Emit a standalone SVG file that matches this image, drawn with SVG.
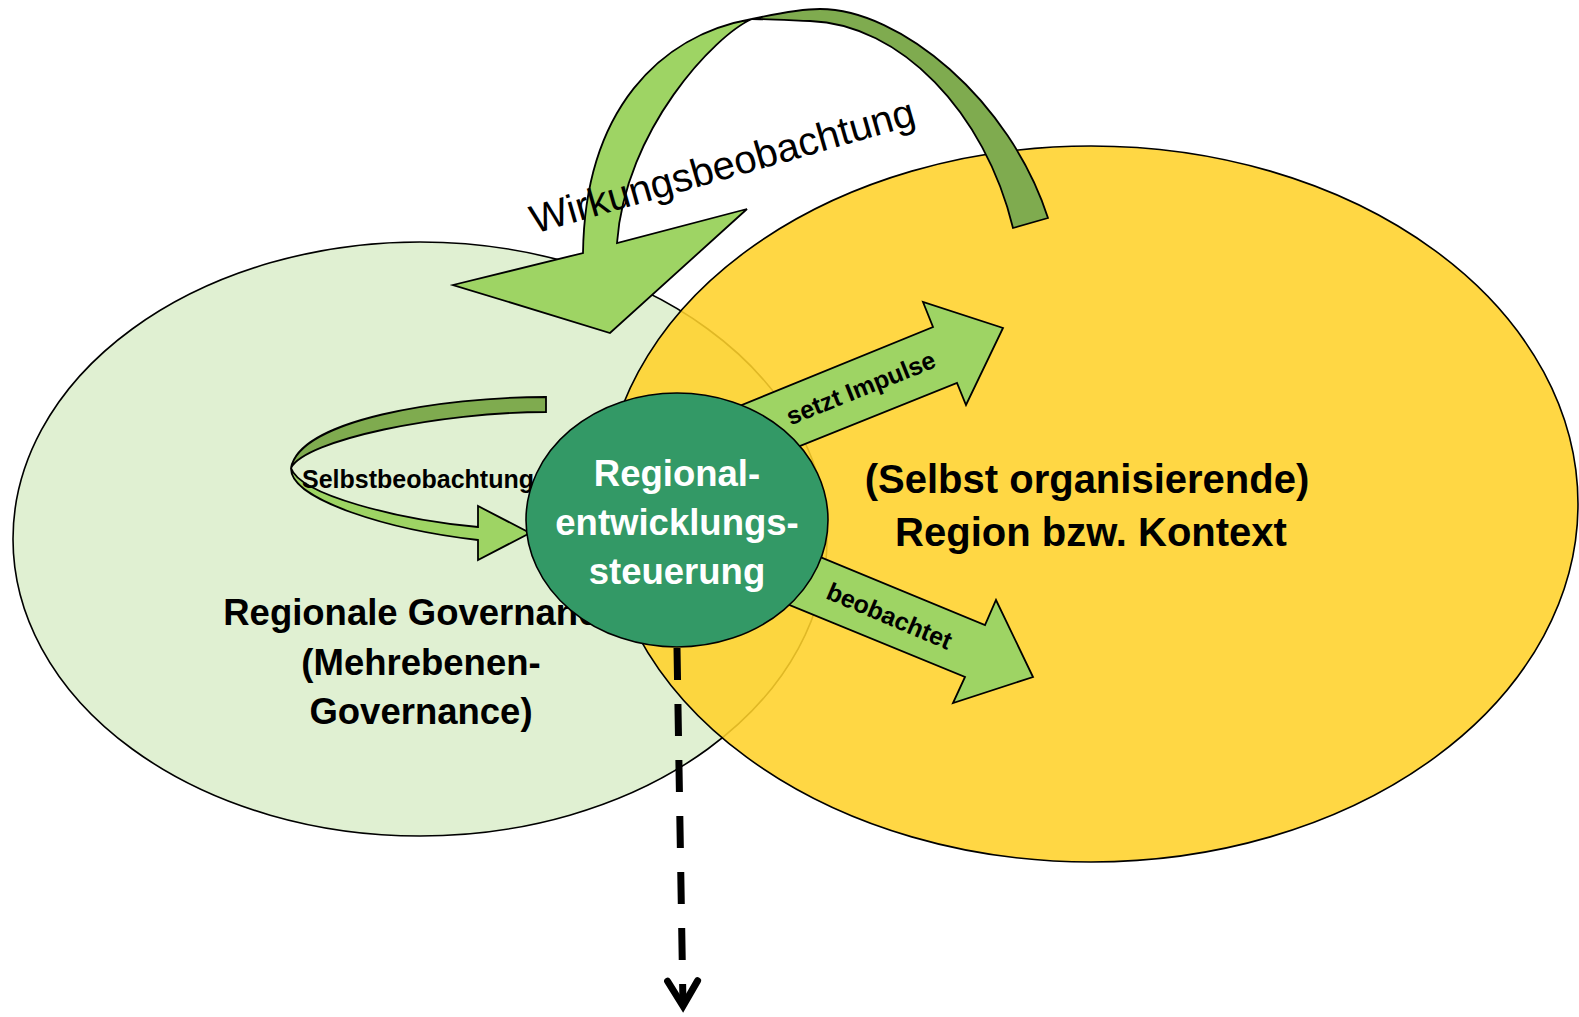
<svg xmlns="http://www.w3.org/2000/svg" width="1579" height="1017" viewBox="0 0 1579 1017">
  <defs>
    <style>
      .outline { stroke: #000; stroke-width: 1.6; }
      .arrow-light { fill: #9ED464; stroke: #000; stroke-width: 1.8; stroke-linejoin: miter; }
      .arrow-dark { fill: #7FAB4F; stroke: #000; stroke-width: 1.8; stroke-linejoin: miter; }
      .big { font-family: "Liberation Sans", Arial, sans-serif; font-weight: 700; font-size: 36.5px; text-anchor: middle; fill: #000; }
      .big-r { font-family: "Liberation Sans", Arial, sans-serif; font-weight: 700; font-size: 40px; text-anchor: middle; fill: #000; }
      .center-txt { font-family: "Liberation Sans", Arial, sans-serif; font-weight: 700; font-size: 36.5px; text-anchor: middle; fill: #FFFFFF; }
      .small { font-family: "Liberation Sans", Arial, sans-serif; font-weight: 700; font-size: 25px; fill: #000; }
      .loop-label { font-family: "Liberation Sans", Arial, sans-serif; font-weight: 400; font-size: 40px; text-anchor: middle; fill: #000; }
    </style>
    <marker id="chevron" markerUnits="userSpaceOnUse" markerWidth="60" markerHeight="60" viewBox="-40 -30 60 60" refX="0" refY="0" orient="auto" overflow="visible">
      <path d="M-25,-15 L0,0 L-25,15" fill="none" stroke="#000" stroke-width="7" stroke-linecap="round" stroke-linejoin="miter"/>
    </marker>
  </defs>

  <rect x="0" y="0" width="1579" height="1017" fill="#FFFFFF"/>

  <!-- left ellipse: regional governance -->
  <g id="governance">
    <ellipse cx="420" cy="539" rx="407" ry="297" fill="#E0F0D2" class="outline"/>
    <text class="big" x="421" y="625">Regionale Governance</text>
    <text class="big" x="421" y="675">(Mehrebenen-</text>
    <text class="big" x="421" y="724">Governance)</text>
  </g>

  <!-- right ellipse: self-organising region / context (translucent, lies over the left one) -->
  <g id="region">
    <ellipse cx="1091" cy="504" rx="487" ry="358" fill="#FFD22A" fill-opacity="0.88" class="outline"/>
    <text class="big-r" x="1087" y="493">(Selbst organisierende)</text>
    <text class="big-r" x="1091" y="546">Region bzw. Kontext</text>
  </g>

  <!-- connectors -->
  <g id="connectors">
    <!-- Wirkungsbeobachtung: twisted ribbon arching from the region back to governance -->
    <g id="effect-loop">
      <path class="arrow-light" d="M583,253 C585,110 660,35 752,19 C715,35 625,130 617,243 L747,209 L610,333 L453,285 Z"/>
      <path class="arrow-dark" d="M752,19 C775,14 800,9 820,9 C900,9 1010,100 1048,218 L1013,228 C985,112 900,24 810,21 C785,20 765,19 752,19 Z"/>
      <text class="loop-label" transform="translate(726,179) rotate(-16)">Wirkungsbeobachtung</text>
    </g>

    <!-- Selbstbeobachtung: loop inside the governance ellipse -->
    <g id="self-loop">
      <path class="arrow-dark" d="M546,397 C440,397 300,420 291,468 C305,440 440,412 546,412 Z"/>
      <path class="arrow-light" d="M291,468 C290,500 390,530 478,540 L478,560 L530,533 L478,506 L478,527 C400,520 300,495 291,468 Z"/>
      <text class="small" x="302" y="488">Selbstbeobachtung</text>
    </g>

    <!-- setzt Impulse -->
    <g id="impulse">
      <path class="arrow-light" d="M700,422 L933,327 L923,302 L1003,328 L966,405 L957,383 L740,470 Z"/>
      <text class="small" text-anchor="middle" transform="translate(864,396) rotate(-21.8)">setzt Impulse</text>
    </g>

    <!-- beobachtet -->
    <g id="observes">
      <path class="arrow-light" d="M740,524 L985,625 L996,600 L1033,677 L953,703 L965,677 L760,593 Z"/>
      <text class="small" text-anchor="middle" transform="translate(886,624) rotate(23)">beobachtet</text>
    </g>

    <!-- dashed outgoing arrow -->
    <line x1="677" y1="648" x2="683" y2="1006" stroke="#000" stroke-width="7" stroke-dasharray="32 24" marker-end="url(#chevron)"/>
  </g>

  <!-- central node: regional development steering -->
  <g id="steering">
    <ellipse cx="677" cy="520" rx="151" ry="127" fill="#339966" class="outline"/>
    <text class="center-txt" x="677" y="486">Regional-</text>
    <text class="center-txt" x="677" y="535">entwicklungs-</text>
    <text class="center-txt" x="677" y="584">steuerung</text>
  </g>
</svg>
